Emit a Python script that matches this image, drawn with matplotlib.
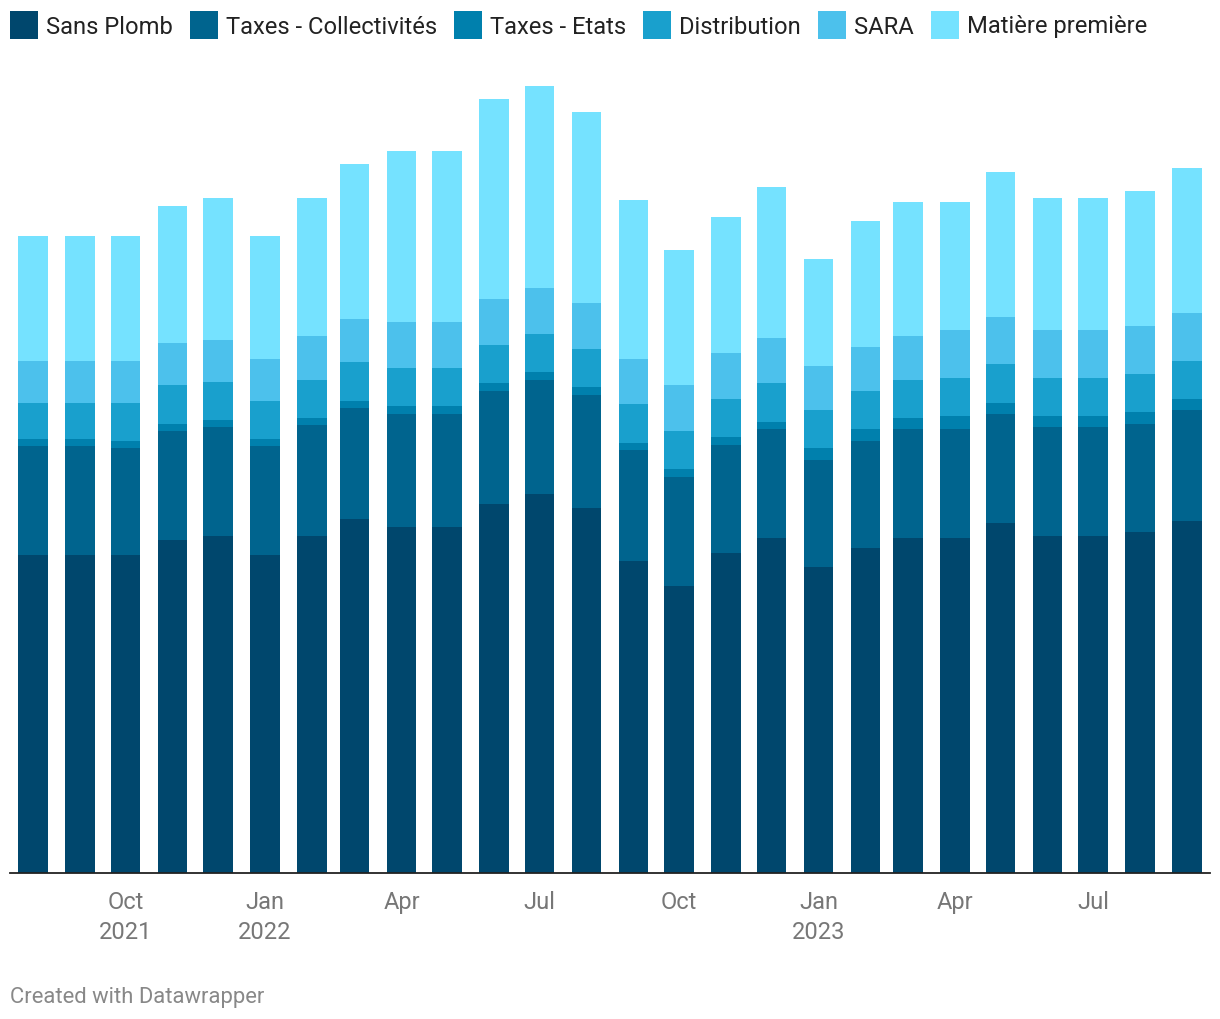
import matplotlib
matplotlib.use("Agg")
import matplotlib.pyplot as plt
import matplotlib.dates as mdates
from matplotlib.patches import Rectangle
import pandas as pd
import numpy as np

plt.rcParams["font.family"] = ["Roboto", "DejaVu Sans"]

# monthly values (EUR / L), Aug 2021 -> Sep 2023
months = pd.date_range("2021-08-01", "2023-09-01", freq="MS")

sans_plomb = [1.490, 1.490, 1.490, 1.560, 1.579, 1.490, 1.579, 1.659, 1.621, 1.621,
              1.729, 1.776, 1.710, 1.462, 1.345, 1.500, 1.570, 1.434, 1.523, 1.570,
              1.570, 1.640, 1.579, 1.579, 1.598, 1.649]
taxes_collectivites = [0.511, 0.511, 0.501, 0.511, 0.511, 0.511, 0.520, 0.520, 0.530, 0.530,
                       0.530, 0.534, 0.530, 0.520, 0.511, 0.506, 0.511, 0.501, 0.501, 0.511,
                       0.511, 0.511, 0.511, 0.511, 0.506, 0.520]
taxes_etats = [0.033, 0.033, 0.033, 0.033, 0.033, 0.033, 0.033, 0.033, 0.037, 0.037,
               0.037, 0.037, 0.037, 0.033, 0.037, 0.037, 0.033, 0.056, 0.056, 0.052,
               0.061, 0.052, 0.052, 0.052, 0.056, 0.052]
distribution = [0.169, 0.169, 0.178, 0.183, 0.178, 0.178, 0.178, 0.183, 0.178, 0.178,
                0.178, 0.178, 0.178, 0.183, 0.178, 0.178, 0.183, 0.178, 0.178, 0.178,
                0.178, 0.183, 0.178, 0.178, 0.178, 0.178]
sara = [0.197, 0.197, 0.197, 0.197, 0.197, 0.197, 0.206, 0.201, 0.216, 0.216,
        0.216, 0.216, 0.216, 0.211, 0.216, 0.216, 0.211, 0.206, 0.206, 0.206,
        0.225, 0.220, 0.225, 0.225, 0.225, 0.225]
matiere_premiere = [0.586, 0.586, 0.586, 0.642, 0.665, 0.576, 0.647, 0.726, 0.801, 0.801,
                    0.937, 0.947, 0.895, 0.745, 0.633, 0.637, 0.708, 0.501, 0.590, 0.628,
                    0.600, 0.679, 0.619, 0.619, 0.633, 0.679]

series_names = ["Sans Plomb", "Taxes - Collectivités", "Taxes - Etats",
                "Distribution", "SARA", "Matière première"]
colors = ["#00476d", "#00648e", "#0080ad", "#19a0cd", "#4cc1ec", "#75e2ff"]

tick_dates = pd.to_datetime(["2021-10-01", "2022-01-01", "2022-04-01", "2022-07-01",
                             "2022-10-01", "2023-01-01", "2023-04-01", "2023-07-01"])
tick_labels = ["Oct\n2021", "Jan\n2022", "Apr", "Jul", "Oct", "Jan\n2023", "Apr", "Jul"]

W, H = 1220, 1020
fig = plt.figure(figsize=(W / 100, H / 100), dpi=100)
ax = fig.add_axes([10 / W, 146 / H, 1200 / W, 804 / H])

x = mdates.date2num(months.to_pydatetime())
data = [sans_plomb, taxes_collectivites, taxes_etats, distribution, sara, matiere_premiere]
bottom = np.zeros(len(x))
for vals, c in zip(data, colors):
    vals = np.array(vals)
    ax.bar(x, vals, width=19.3, bottom=bottom, color=c, linewidth=0)
    bottom += vals

ax.set_xlim(x[0] - 15.2, x[-1] + 15.2)
ax.set_ylim(0, 804 / 213.4)

for s in ["top", "right", "left"]:
    ax.spines[s].set_visible(False)
ax.spines["bottom"].set_color("#222222")
ax.spines["bottom"].set_linewidth(1.3)
ax.set_yticks([])
ax.set_xticks(mdates.date2num(tick_dates.to_pydatetime()))
ax.set_xticklabels(tick_labels, fontsize=17, color="#777777", linespacing=1.38)
ax.tick_params(axis="x", length=0, pad=12)

# legend across the top
fig.canvas.draw()
renderer = fig.canvas.get_renderer()
lx = 10
for name, c in zip(series_names, colors):
    fig.patches.append(Rectangle((lx / W, 1 - 40 / H), 28 / W, 28 / H,
                                 transform=fig.transFigure, color=c, linewidth=0))
    t = fig.text((lx + 36) / W, 1 - 27 / H, name, va="center", ha="left",
                 fontsize=17.1, color="#222222")
    bb = t.get_window_extent(renderer)
    lx = bb.x1 + 17

fig.text(10 / W, 1 - 998 / H, "Created with Datawrapper", va="center", ha="left",
         fontsize=15.8, color="#888888")

fig.savefig("out.png", dpi=100, facecolor="white")
